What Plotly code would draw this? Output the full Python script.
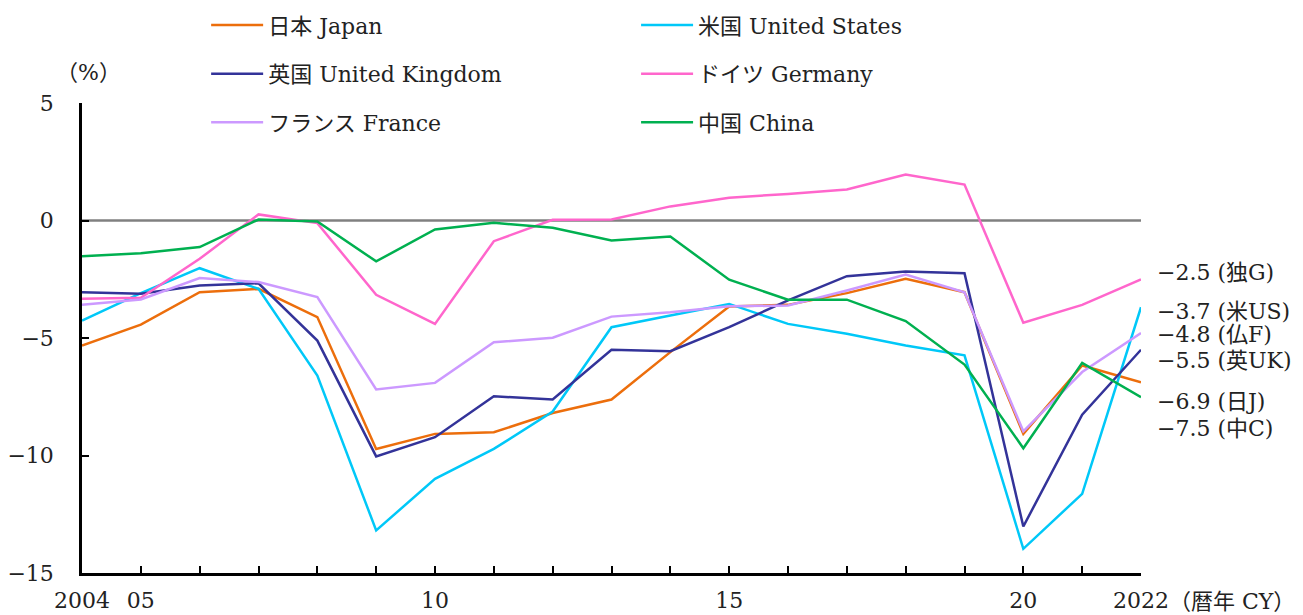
import plotly.graph_objects as go

years = list(range(2004, 2023))

japan = [-5.32, -4.43, -3.05, -2.91, -4.11, -9.72, -9.08, -9.01, -8.19, -7.62,
         -5.60, -3.66, -3.59, -3.09, -2.48, -3.05, -9.08, -6.17, -6.88]
us = [-4.26, -3.09, -2.03, -2.91, -6.60, -13.19, -10.99, -9.72, -8.13, -4.54,
      -4.04, -3.55, -4.40, -4.82, -5.32, -5.74, -13.97, -11.63, -3.69]
uk = [-3.05, -3.12, -2.77, -2.67, -5.11, -10.04, -9.22, -7.48, -7.62, -5.50,
      -5.56, -4.54, -3.40, -2.37, -2.17, -2.24, -13.02, -8.26, -5.50]
germany = [-3.33, -3.29, -1.63, 0.26, -0.11, -3.16, -4.40, -0.88, 0.03, 0.04,
           0.60, 0.97, 1.13, 1.32, 1.96, 1.53, -4.35, -3.59, -2.51]
france = [-3.59, -3.36, -2.45, -2.62, -3.26, -7.19, -6.91, -5.18, -4.99, -4.09,
          -3.90, -3.65, -3.62, -2.98, -2.30, -3.05, -8.97, -6.45, -4.79]
china = [-1.52, -1.39, -1.13, 0.04, -0.04, -1.74, -0.38, -0.10, -0.31, -0.85,
         -0.68, -2.52, -3.37, -3.37, -4.28, -6.13, -9.69, -6.06, -7.52]

names = ["日本 Japan", "米国 United States", "英国 United Kingdom",
         "ドイツ Germany", "フランス France", "中国 China"]
series = [japan, us, uk, germany, france, china]
colors = ["#ec6e0c", "#00c8f8", "#333399", "#ff66cc", "#cc99ff", "#00b050"]
legends = ["legend", "legend2", "legend", "legend2", "legend", "legend2"]

# end labels (text, label position)
end_tags = ["日J", "米US", "英UK", "独G", "仏F", "中C"]
label_y = [-7.70, -3.87, -5.96, -2.21, -4.85, -8.85]

xtick_text = {2004: "2004", 2005: "05", 2010: "10", 2015: "15", 2020: "20", 2022: "2022"}

FONT = "DejaVu Serif, Noto Sans CJK JP, serif"
TXT = "#222222"
FS = 22

fig = go.Figure()
for i, (name, vals, col, lg) in enumerate(zip(names, series, colors, legends)):
    fig.add_trace(go.Scatter(x=years, y=vals, name=name, mode="lines",
                             line=dict(color=col, width=2.5),
                             legend=lg, legendgroup=str(i)))

for vals, tag, ly in zip(series, end_tags, label_y):
    txt = f"{vals[-1]:.1f}".replace("-", "−") + f" ({tag})"
    fig.add_annotation(x=1, xref="paper", y=ly, yref="y", text=txt,
                       showarrow=False, xanchor="left", xshift=14,
                       font=dict(size=FS, color=TXT, family=FONT))

fig.add_annotation(x=1, xref="paper", y=0, yref="paper", text="（暦年 CY）",
                   showarrow=False, xanchor="left", yanchor="top", xshift=26, yshift=-14,
                   font=dict(size=FS, color=TXT, family=FONT))
fig.add_annotation(x=0, xref="paper", y=1, yref="paper", text="（%）",
                   showarrow=False, xanchor="center", yanchor="bottom", yshift=16, xshift=6,
                   font=dict(size=FS, color=TXT, family=FONT))

fig.add_shape(type="line", xref="paper", x0=0, x1=1, yref="y", y0=0, y1=0,
              line=dict(color="#808080", width=2.5), layer="below")

legend_style = dict(font=dict(size=FS, color=TXT, family=FONT),
                    bgcolor="rgba(0,0,0,0)", tracegroupgap=17,
                    xref="container", yref="paper",
                    xanchor="left", yanchor="top", itemwidth=52)
# page is shown with an 8px body margin, so the figure is 8px smaller
fig.update_layout(
    width=1295, height=607,
    margin=dict(l=74, r=162, t=95, b=42, autoexpand=False),
    plot_bgcolor="#ffffff", paper_bgcolor="#ffffff",
    font=dict(family=FONT, size=FS, color=TXT),
    legend=dict(x=0.1530, y=1.21, **legend_style),
    legend2=dict(x=0.4850, y=1.21, **legend_style),
)

fig.update_xaxes(range=[2004, 2022], tickvals=years,
                 ticktext=[xtick_text.get(y, "") for y in years],
                 ticks="inside", ticklen=7, tickwidth=2, tickcolor="#000000",
                 showline=True, linecolor="#000000", linewidth=2.5,
                 showgrid=False, zeroline=False, ticklabelstandoff=6, automargin=False)
fig.update_yaxes(range=[-15, 5], tickvals=[-15, -10, -5, 0, 5],
                 ticktext=["−15", "−10", "−5", "0", "5"],
                 ticks="inside", ticklen=7, tickwidth=2, tickcolor="#000000",
                 showline=True, linecolor="#000000", linewidth=2.5,
                 showgrid=False, zeroline=False, ticklabelstandoff=21, automargin=False)

fig.write_html("out.html")
